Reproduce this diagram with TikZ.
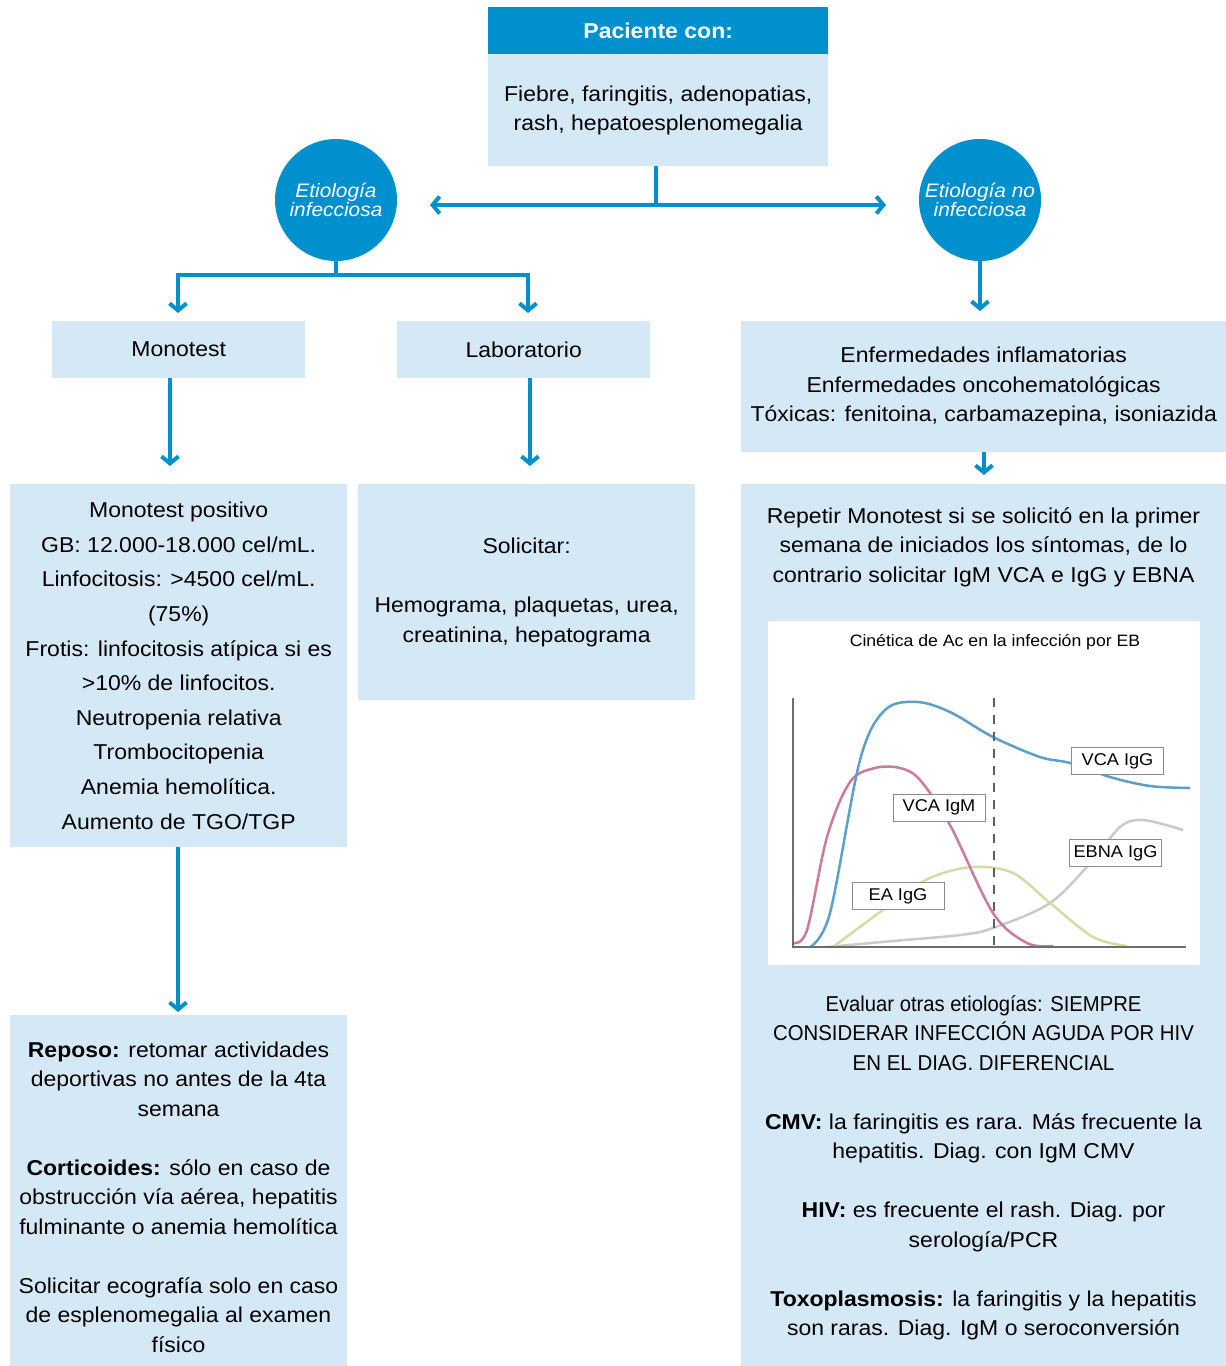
\documentclass[tikz,border=0pt]{standalone}
\usepackage{fontspec}
\setmainfont{Liberation Sans}[FakeStretch=1.07]
\usetikzlibrary{arrows.meta}
\definecolor{dblue}{HTML}{0090CE}
\definecolor{lblue}{HTML}{D4E9F5}
\definecolor{cblue}{HTML}{5C9FC9}
\definecolor{cpink}{HTML}{CC7A9E}
\definecolor{cgreen}{HTML}{D5DCA3}
\definecolor{cgray}{HTML}{CACACA}
\definecolor{axgray}{HTML}{6E6E6E}
\newcommand\sqz[2]{\scalebox{#1}[1]{#2}}
\begin{document}
\begin{tikzpicture}[x=1pt,y=-1pt,
  box/.style={fill=lblue, draw=none, inner sep=0pt, anchor=north west, align=center,
    font=\fontsize{21.5}{29.5}\selectfont},
  hdr/.style={fill=dblue, draw=none, inner sep=0pt, anchor=north west, text=white,
    font=\fontsize{21.5}{25}\selectfont\bfseries},
  circ/.style={circle, fill=dblue, draw=none, minimum size=122pt, inner sep=0pt,
    text=white, align=center, font=\fontsize{19.5}{18}\selectfont\itshape},
  txt/.style={align=center, inner sep=0pt, font=\fontsize{21.5}{29.5}\selectfont},
  conn/.style={draw=dblue, line width=4pt},
  arr/.style={conn, -{Straight Barb[length=7pt,width=17pt]}},
  lab/.style={fill=white, draw=axgray!80, line width=1pt, minimum width=92pt,
    minimum height=27pt, inner sep=0pt, font=\fontsize{17}{20}\selectfont},
  curve/.style={line width=2.5pt, smooth, tension=0.55}
]
\useasboundingbox (0,0) rectangle (1226,1366);

% top
\node[hdr, minimum width=340pt, minimum height=48pt] (header) at (488,7) {Paciente con:};
\node[box, minimum width=340pt, minimum height=112pt] (body) at (488,54)
  {Fiebre, faringitis, adenopatias,\\rash, hepatoesplenomegalia};

\node[circ] (circL) at (336,200) {Etiología\\infecciosa};
\node[circ] (circR) at (980,200) {Etiología no\\infecciosa};

\coordinate (jTop) at (656,205);
\coordinate (aL) at (430,205);
\coordinate (aR) at (886,205);
\draw[conn] (body.south -| jTop) -- (jTop);
\draw[arr] (jTop) -- (aL);
\draw[arr] (jTop) -- (aR);

% second level
\node[box, minimum width=253pt, minimum height=57pt] (mono) at (52,321) {Monotest};
\node[box, minimum width=253pt, minimum height=57pt] (labo) at (397,321) {Laboratorio};
\node[box, minimum width=485pt, minimum height=131pt] (inflam) at (741,321)
  {Enfermedades inflamatorias\\Enfermedades oncohematológicas\\Tóxicas: fenitoina, carbamazepina, isoniazida};

\coordinate (jL) at (336,275);
\coordinate (mL) at (178,313);
\coordinate (mR) at (528,313);
\draw[conn] (circL.south) -- (jL);
\draw[arr] (jL) -| (mL);
\draw[arr] (jL) -| (mR);
\coordinate (iR) at (980,311);
\draw[arr] (circR.south) -- (iR);

% third level
\node[box, minimum width=337pt, minimum height=363pt,
  font=\fontsize{21.5}{34.6}\selectfont] (monopos) at (10,484)
  {Monotest positivo\\GB: 12.000-18.000 cel/mL.\\Linfocitosis: >4500 cel/mL.\\(75\%)\\Frotis: linfocitosis atípica si es\\>10\% de linfocitos.\\Neutropenia relativa\\Trombocitopenia\\Anemia hemolítica.\\Aumento de TGO/TGP};
\node[box, minimum width=337pt, minimum height=216pt] (solic) at (358,484)
  {Solicitar:\\[29.5pt]Hemograma, plaquetas, urea,\\creatinina, hepatograma};
\node[box, minimum width=485pt, minimum height=882pt] (repetir) at (741,484) {};

\coordinate (a1) at (170,466);
\coordinate (a2) at (530,466);
\coordinate (a3) at (984,475);
\draw[arr] (mono.south -| a1) -- (a1);
\draw[arr] (labo.south -| a2) -- (a2);
\draw[arr] (inflam.south -| a3) -- (a3);

\node[txt] (reptxt) at (983.5,547)
  {Repetir Monotest si se solicitó en la primer\\semana de iniciados los síntomas, de lo\\contrario solicitar IgM VCA e IgG y EBNA};

% chart
\node[fill=white, draw=none, inner sep=0pt, minimum width=432pt, minimum height=344pt, anchor=north west] (chart) at (768,621) {};
\node[inner sep=0pt, font=\fontsize{16.5}{18}\selectfont] (ctitle) at (995,642) {Cinética de Ac en la infección por EB};
\draw[curve, cgray] plot coordinates {(827,947) (893,941) (960,935) (993,928) (1050,903) (1093,860) (1120,827) (1143,820) (1183,830)};
\draw[curve, cgreen] plot coordinates {(833,947) (887,907) (930,878) (973,867) (1013,873) (1050,903) (1093,937) (1127,946)};
\draw[curve, cpink] plot coordinates {(793,943) (807,930) (827,837) (850,782) (875,768) (900,768) (920,780) (950,825) (993,913) (1027,943) (1053,946)};
\draw[curve, cblue] plot coordinates {(810,947) (830,913) (860,760) (885,710) (917,702) (950,712) (993,737) (1040,757) (1070,763) (1110,777) (1150,786) (1190,788)};
\draw[axgray, line width=2.5pt, line cap=butt] (793,698) -- (793,947) -- (1186,947);
\draw[axgray!85!black, line width=2.5pt, dash pattern=on 9pt off 8pt] (994,698) -- (994,947);
\node[lab] (lVG) at (1117.5,761) {VCA IgG};
\node[lab] (lVM) at (939,807.5) {VCA IgM};
\node[lab] (lEA) at (898,896) {EA IgG};
\node[lab] (lEB) at (1115.5,853) {EBNA IgG};

\node[txt] (evtxt) at (983.5,1168)
  {\sqz{0.88}{Evaluar otras etiologías: SIEMPRE}\\\sqz{0.885}{CONSIDERAR INFECCIÓN AGUDA POR HIV}\\\sqz{0.89}{EN EL DIAG. DIFERENCIAL}\\[29.5pt]
   \textbf{CMV:} la faringitis es rara. Más frecuente la\\hepatitis. Diag. con IgM CMV\\[29.5pt]
   \textbf{HIV:} es frecuente el rash. Diag. por\\serología/PCR\\[29.5pt]
   \textbf{Toxoplasmosis:} la faringitis y la hepatitis\\son raras. Diag. IgM o seroconversión};

% bottom left
\node[box, minimum width=337pt, minimum height=351pt] (reposo) at (10,1015) {};
\coordinate (a4) at (178,1012);
\draw[arr] (monopos.south -| a4) -- (a4);
\node[txt] (reptx) at (178.5,1197)
  {\textbf{Reposo:} retomar actividades\\deportivas no antes de la 4ta\\semana\\[29.5pt]
   \textbf{Corticoides:} sólo en caso de\\obstrucción vía aérea, hepatitis\\fulminante o anemia hemolítica\\[29.5pt]
   Solicitar ecografía solo en caso\\de esplenomegalia al examen\\físico};
\end{tikzpicture}
\end{document}
